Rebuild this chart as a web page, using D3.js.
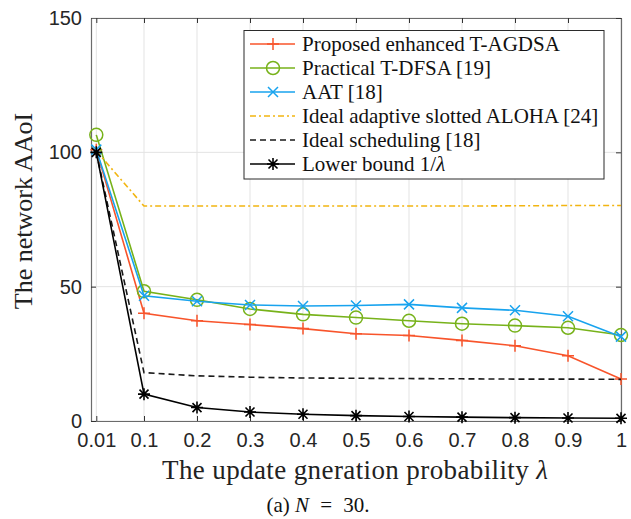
<!DOCTYPE html>
<html><head><meta charset="utf-8">
<script src="https://cdn.jsdelivr.net/npm/d3@7"></script>
<style>body{margin:0;background:#fff}</style>
</head><body>
<svg id="chart" width="631" height="519"></svg>
<script>
const lambdas = [0.01,0.1,0.2,0.3,0.4,0.5,0.6,0.7,0.8,0.9,1];
const xTickLabels = ["0.01","0.1","0.2","0.3","0.4","0.5","0.6","0.7","0.8","0.9","1"];
const yTicks = [0,50,100,150];
const proposed = [101,40.1,37.3,35.9,34.4,32.5,31.8,30.0,28.0,24.3,15.6];
const practical = [106.5,48.3,45.1,41.7,39.7,38.5,37.3,36.2,35.5,34.7,32.0];
const aat = [101,46.6,44.6,43.2,42.8,43.0,43.4,42.1,41.2,39.0,31.4];
const idealAloha = [100.5,80,80,80,80,80,80,80,80.1,80.2,80.2];
const idealSched = [100,18,16.8,16.3,16.0,15.9,15.8,15.7,15.6,15.6,15.5];
const lowerBound = [100,10,5,3.33,2.5,2,1.67,1.43,1.25,1.11,1];
const seriesNames = ["Proposed enhanced T-AGDSA","Practical T-DFSA [19]","AAT [18]","Ideal adaptive slotted ALOHA [24]","Ideal scheduling [18]","Lower bound 1/\u03BB"];

const series = [
  {name:seriesNames[0], values:proposed, color:"#F8542B", dash:null, marker:"plus"},
  {name:seriesNames[1], values:practical, color:"#77B21A", dash:null, marker:"circle"},
  {name:seriesNames[2], values:aat, color:"#18A3EE", dash:null, marker:"x"},
  {name:seriesNames[3], values:idealAloha, color:"#F2B511", dash:"6,3,2,3", marker:null},
  {name:seriesNames[4], values:idealSched, color:"#1a1a1a", dash:"6,4", marker:null},
  {name:seriesNames[5], values:lowerBound, color:"#000000", dash:null, marker:"star"}
];

const svg = d3.select("#chart");
const L=91, R=621, T=18, B=421;
const x = d3.scaleLinear().domain([0,1]).range([L,R]);
const y = d3.scaleLinear().domain([0,150]).range([B,T]);
const serif = "'Liberation Serif','Times New Roman',serif";
const sans = "'Liberation Sans',Arial,sans-serif";

// grid
const g = svg.append("g");
g.selectAll(".vg").data(lambdas).enter().append("line")
  .attr("x1",d=>x(d)).attr("x2",d=>x(d)).attr("y1",T).attr("y2",B)
  .attr("stroke","#e3e3e3").attr("stroke-width",1);
g.selectAll(".hg").data(yTicks).enter().append("line")
  .attr("x1",L).attr("x2",R).attr("y1",d=>y(d)).attr("y2",d=>y(d))
  .attr("stroke","#e3e3e3").attr("stroke-width",1);

// axes
const xAxis = d3.axisBottom(x).tickValues(lambdas).tickFormat((d,i)=>xTickLabels[i]).tickSizeInner(-5).tickSizeOuter(0).tickPadding(12);
const yAxis = d3.axisLeft(y).tickValues(yTicks).tickSizeInner(-5).tickSizeOuter(0).tickPadding(9);
const xa = svg.append("g").attr("transform",`translate(0,${B})`).call(xAxis);
const ya = svg.append("g").attr("transform",`translate(${L},0)`).call(yAxis);
const xTop = svg.append("g").attr("transform",`translate(0,${T})`).call(d3.axisTop(x).tickValues(lambdas).tickSizeInner(-5).tickSizeOuter(0).tickFormat(""));
const yRight = svg.append("g").attr("transform",`translate(${R},0)`).call(d3.axisRight(y).tickValues(yTicks).tickSizeInner(-5).tickSizeOuter(0).tickFormat(""));
[xa,ya,xTop,yRight].forEach(a=>{
  a.select(".domain").attr("stroke","#6b6b6b").attr("stroke-width",1.2);
  a.selectAll(".tick line").attr("stroke","#333");
  a.selectAll("text").attr("font-family",sans).attr("font-size",20).attr("fill","#262626");
});

// lines
const line = d3.line().x((d,i)=>x(lambdas[i])).y(d=>y(d));
function drawMarker(sel, type, color, cx, cy){
  const s = 6;
  if(type==="plus"){
    sel.append("path").attr("d",`M${cx-s},${cy}H${cx+s}M${cx},${cy-s}V${cy+s}`).attr("stroke",color).attr("stroke-width",1.5).attr("fill","none");
  } else if(type==="circle"){
    sel.append("circle").attr("cx",cx).attr("cy",cy).attr("r",6.5).attr("stroke",color).attr("stroke-width",1.5).attr("fill","none");
  } else if(type==="x"){
    const t=5;
    sel.append("path").attr("d",`M${cx-t},${cy-t}L${cx+t},${cy+t}M${cx-t},${cy+t}L${cx+t},${cy-t}`).attr("stroke",color).attr("stroke-width",1.5).attr("fill","none");
  } else if(type==="star"){
    const t=4.5;
    sel.append("path").attr("d",`M${cx-s},${cy}H${cx+s}M${cx},${cy-s}V${cy+s}M${cx-t},${cy-t}L${cx+t},${cy+t}M${cx-t},${cy+t}L${cx+t},${cy-t}`).attr("stroke",color).attr("stroke-width",1.6).attr("fill","none");
  }
}
const plot = svg.append("g");
series.forEach(s=>{
  plot.append("path").datum(s.values).attr("d",line).attr("fill","none")
    .attr("stroke",s.color).attr("stroke-width",1.6)
    .attr("stroke-dasharray",s.dash);
  if(s.marker){
    const mg = plot.append("g");
    s.values.forEach((v,i)=>drawMarker(mg,s.marker,s.color,x(lambdas[i]),y(v)));
  }
});

// legend
const lg = svg.append("g");
lg.append("rect").attr("x",244).attr("y",30.5).attr("width",360).attr("height",148.5)
  .attr("fill","#fff").attr("stroke","#2b2b2b").attr("stroke-width",1);
series.forEach((s,i)=>{
  const cy = 44 + i*24;
  lg.append("line").attr("x1",250).attr("x2",295).attr("y1",cy).attr("y2",cy)
    .attr("stroke",s.color).attr("stroke-width",1.6).attr("stroke-dasharray",s.dash);
  if(s.marker) drawMarker(lg,s.marker,s.color,273,cy);
  const t = lg.append("text").attr("x",302).attr("y",cy+7)
    .attr("font-family",serif).attr("font-size",21).attr("fill","#111");
  if(i===5){
    t.text("Lower bound 1/");
    t.append("tspan").attr("font-style","italic").text("\u03BB");
  } else t.text(s.name);
});

// axis labels
const xl = svg.append("text").attr("x",162).attr("y",479)
  .attr("font-family",serif).attr("font-size",27).attr("fill","#222")
  .attr("textLength",386).attr("lengthAdjust","spacing");
xl.append("tspan").text("The update gneration probability ");
xl.append("tspan").attr("font-style","italic").text("\u03BB");
svg.append("text").attr("transform","translate(32,211) rotate(-90)").attr("text-anchor","middle")
  .attr("font-family",serif).attr("font-size",26).attr("fill","#222")
  .text("The network AAoI");
const cap = svg.append("text").attr("x",318).attr("y",512).attr("text-anchor","middle")
  .attr("font-family",serif).attr("font-size",21).attr("fill","#111");
cap.append("tspan").text("(a) ");
cap.append("tspan").attr("font-style","italic").text("N");
cap.append("tspan").attr("dx",6).text(" =");
cap.append("tspan").attr("dx",6).text(" 30.");
</script>
</body></html>
